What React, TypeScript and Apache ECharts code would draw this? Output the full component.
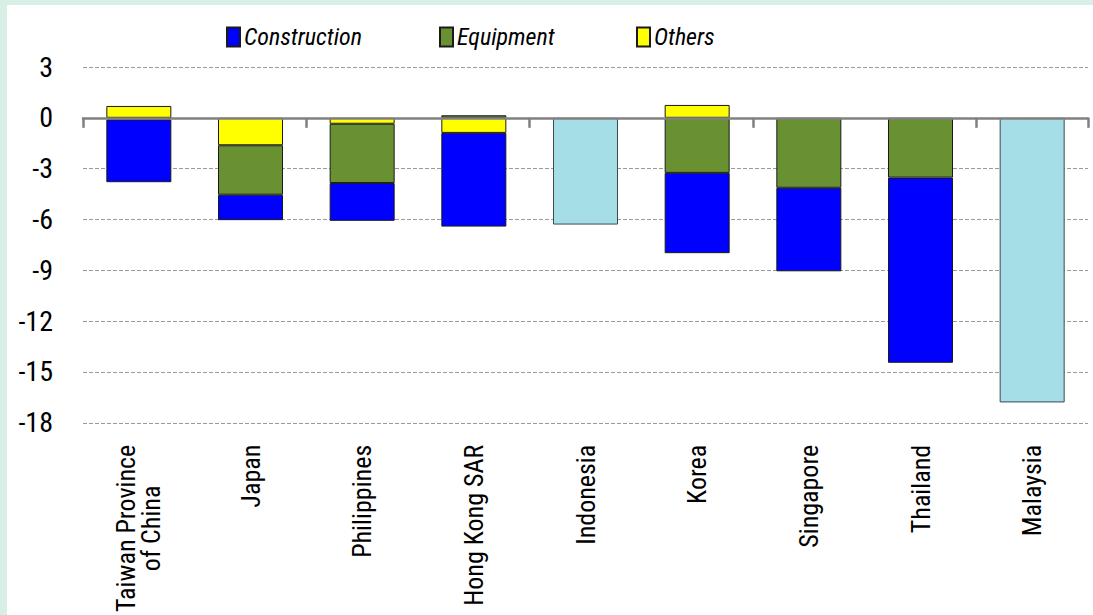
import React, { useEffect, useRef } from "react";
import * as echarts from "echarts";

const categories = [
  "Taiwan Province\nof China",
  "Japan",
  "Philippines",
  "Hong Kong SAR",
  "Indonesia",
  "Korea",
  "Singapore",
  "Thailand",
  "Malaysia",
];
const construction: (number | string)[] = [-3.7, -1.5, -2.23, -5.53, "-", -4.74, -4.93, -10.93, "-"];
const equipment: (number | string)[] = [-0.1, -2.92, -3.5, 0.15, "-", -3.25, -4.13, -3.53, "-"];
const others: (number | string)[] = [0.7, -1.62, -0.35, -0.89, "-", 0.76, "-", "-", "-"];
const totalOnly: (number | string)[] = ["-", "-", "-", "-", -6.3, "-", "-", "-", -16.8];
const yTicks = { min: -18, max: 3, interval: 3 };
const legendNames = ["Construction", "Equipment", "Others"];

const FONT = "'Roboto Condensed', 'DejaVu Sans Condensed', sans-serif";

export default function App() {
  const ref = useRef<HTMLDivElement>(null);
  useEffect(() => {
    if (!ref.current) return;
    const chart = echarts.init(ref.current, undefined, { renderer: "svg" });
    const border = { borderColor: "#1a1a1a", borderWidth: 1 };
    const legendLefts = [226, 439, 636];
    chart.setOption({
      animation: false,
      backgroundColor: "#ffffff",
      graphic: [
        { type: "rect", left: 0, top: 0, shape: { width: 7, height: 615 }, style: { fill: "#d8efe6" }, silent: true },
        { type: "rect", left: 0, top: 0, shape: { width: 1093, height: 5 }, style: { fill: "#d8efe6" }, silent: true },
      ],
      legend: legendNames.map((n, i) => ({
        data: [n],
        left: legendLefts[i],
        top: 25,
        padding: 0,
        itemWidth: 13,
        itemHeight: 19,
        itemGap: 0,
        icon: "rect",
        textStyle: { fontFamily: FONT, fontStyle: "italic", fontSize: 24, color: "#000", padding: [0, 0, 0, -1] },
      })),
      grid: { left: 83, right: 5, top: 67, bottom: 192, containLabel: false },
      xAxis: [
        {
          type: "category",
          data: categories,
          position: "bottom",
          axisLine: { onZero: true, lineStyle: { color: "#808080", width: 2.5 } },
          axisTick: { show: true, length: 10, lineStyle: { color: "#808080", width: 2.5 } },
          axisLabel: { show: false },
          splitLine: { show: false },
          z: 10,
        },
        {
          type: "category",
          data: categories,
          position: "bottom",
          axisLine: { show: false, onZero: false },
          axisTick: { show: false },
          axisLabel: {
            show: true,
            interval: 0,
            rotate: 90,
            margin: 22,
            formatter: (v: string) => v.split("\n").map((s) => "{c|" + s + "}").join("\n"),
            rich: {
              c: { fontFamily: FONT, fontSize: 26, color: "#000", align: "center", lineHeight: 25 },
            },
          },
        },
      ],
      yAxis: {
        type: "value",
        min: yTicks.min,
        max: yTicks.max,
        interval: yTicks.interval,
        axisLine: { show: false },
        axisTick: { show: false },
        axisLabel: { fontFamily: FONT, fontSize: 28, color: "#000", margin: 30 },
        splitLine: { show: true, lineStyle: { color: "#9a9a9a", type: [4, 2], width: 1 } },
      },
      series: [
        { name: "Others", type: "bar", stack: "s", data: others, barWidth: 65, itemStyle: { color: "#ffff00", ...border } },
        { name: "Equipment", type: "bar", stack: "s", data: equipment, barWidth: 65, itemStyle: { color: "#699131", ...border } },
        { name: "Construction", type: "bar", stack: "s", data: construction, barWidth: 65, itemStyle: { color: "#0000ff", ...border } },
        { name: "Total", type: "bar", stack: "s", data: totalOnly, barWidth: 65, itemStyle: { color: "#a6dee8", borderColor: "#3a4a50", borderWidth: 1 } },
      ],
    });
    return () => chart.dispose();
  }, []);
  return <div ref={ref} style={{ position: "fixed", left: 0, top: 0, width: 1093, height: 615 }} />;
}
